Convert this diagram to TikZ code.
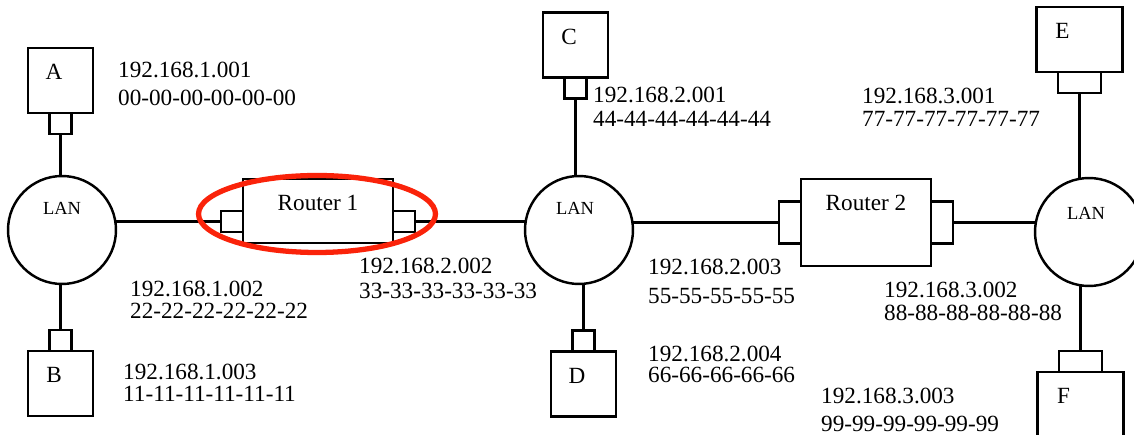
\documentclass[tikz,border=0pt]{standalone}
\usepackage{fontspec}
\setmainfont{Liberation Serif}
\usetikzlibrary{positioning, calc, shapes.geometric}
\definecolor{markred}{RGB}{250,35,10}

\begin{document}
\begin{tikzpicture}[
    x=0.02cm, y=-0.02cm,
    line width=1.4pt,
    host/.style={rectangle, draw, minimum width=1.3cm, minimum height=1.3cm, inner sep=0pt, outer sep=0pt},
    widehost/.style={host, minimum width=1.72cm},
    port/.style={rectangle, draw, minimum width=0.44cm, minimum height=0.42cm, inner sep=0pt, outer sep=0pt},
    wideport/.style={port, minimum width=0.86cm},
    tallport/.style={port, minimum height=0.84cm},
    router/.style={rectangle, draw, inner sep=0pt, outer sep=0pt},
    lan/.style={circle, draw, minimum size=2.16cm, inner sep=0pt, outer sep=0pt},
    tag/.style={font=\fontsize{13.2}{15}\selectfont, inner sep=0pt},
    lantag/.style={font=\fontsize{10.5}{12}\selectfont, inner sep=0pt},
    addr/.style={font=\fontsize{13.2}{12}\selectfont, align=left, anchor=north west, inner sep=0pt},
    hilite/.style={ellipse, draw=markred, line width=3pt, minimum width=4.74cm, minimum height=1.54cm}
]
\useasboundingbox (0,0) rectangle (1134,435);

% subnet 1
\node[lan] (lan1) at (62,230) {};
\node[host] (A) at (60.5,80.5) {};
\node[port, below=0pt of A] (Aport) {};
\node[host] (B) at (60.5,383.5) {};
\node[port, above=0pt of B] (Bport) {};

% router 1
\node[router, minimum width=3cm, minimum height=1.28cm] (R1) at (318,211) {};
\node[port, anchor=east] (R1in) at ($(R1.west)+(0,10.5)$) {};
\node[port, anchor=west] (R1out) at ($(R1.east)+(0,10.5)$) {};

% subnet 2
\node[lan] (lan2) at (579,230) {};
\node[host] (C) at (575.5,45) {};
\node[port, below=0pt of C] (Cport) {};
\node[host] (D) at (583.5,384) {};
\node[port, above=0pt of D] (Dport) {};

% router 2
\node[router, minimum width=2.6cm, minimum height=1.74cm] (R2) at (866,222.5) {};
\node[tallport, left=0pt of R2] (R2in) {};
\node[tallport, right=0pt of R2] (R2out) {};

% subnet 3
\node[lan] (lan3) at (1089,232) {};
\node[widehost] (E) at (1079.5,39.5) {};
\node[wideport, below=0pt of E] (Eport) {};
\node[widehost] (F) at (1080.5,404.5) {};
\node[wideport, above=0pt of F] (Fport) {};

% names
\node[tag] (Atag) at ($(A.north west)+(26,24)$) {A};
\node[tag] (Btag) at ($(B.north west)+(26,24)$) {B};
\node[tag] (Ctag) at ($(C.north west)+(26,24)$) {C};
\node[tag] (Dtag) at ($(D.north west)+(26,24)$) {D};
\node[tag] (Etag) at ($(E.north west)+(26,24)$) {E};
\node[tag] (Ftag) at ($(F.north west)+(26,24)$) {F};
\node[tag] (R1tag) at ($(R1.north)+(0,24)$) {Router 1};
\node[tag] (R2tag) at ($(R2.north)+(0,24)$) {Router 2};
\node[lantag] (lan1tag) at ($(lan1.center)+(0,-22)$) {LAN};
\node[lantag] (lan2tag) at ($(lan2.center)+(-4,-22)$) {LAN};
\node[lantag] (lan3tag) at ($(lan3.center)+(-3,-19)$) {LAN};

% links
\draw (Aport.south) -- (Aport.south |- lan1.north);
\draw (Bport.north) -- (Bport.north |- lan1.south);
\draw (R1in.west) -- (R1in.west -| lan1.east);
\draw (R1out.east) -- (R1out.east -| lan2.west);
\draw (Cport.south) -- (Cport.south |- lan2.north);
\draw (Dport.north) -- (Dport.north |- lan2.south);
\draw (R2in.west) -- (R2in.west -| lan2.east);
\draw (R2out.east) -- (R2out.east -| lan3.west);
\draw (Eport.south) -- (Eport.south |- lan3.north);
\draw (Fport.north) -- (Fport.north |- lan3.south);

% addresses
\node[addr] (ipA) at (117,60.7) {192.168.1.001\\[4.2pt]00-00-00-00-00-00};
\node[addr] (ipR1in) at (129,280) {192.168.1.002\\[0.5pt]22-22-22-22-22-22};
\node[addr] (ipB) at (122,363) {192.168.1.003\\[0.7pt]11-11-11-11-11-11};
\node[addr] (ipC) at (592,86) {192.168.2.001\\[1.6pt]44-44-44-44-44-44};
\node[addr] (ipR1out) at (358,257) {192.168.2.002\\[2.2pt]33-33-33-33-33-33};
\node[addr] (ipR2in) at (647,258) {192.168.2.003\\[4.2pt]55-55-55-55-55};
\node[addr] (ipD) at (647,345) {192.168.2.004\\[0pt]66-66-66-66-66};
\node[addr] (ipE) at (861,86.7) {192.168.3.001\\[1.4pt]77-77-77-77-77-77};
\node[addr] (ipR2out) at (883,280.7) {192.168.3.002\\[1.1pt]88-88-88-88-88-88};
\node[addr] (ipF) at (820,387) {192.168.3.003\\[3.9pt]99-99-99-99-99-99};

% highlight
\node[hilite] (mark) at (317,214) {};
\end{tikzpicture}
\end{document}
